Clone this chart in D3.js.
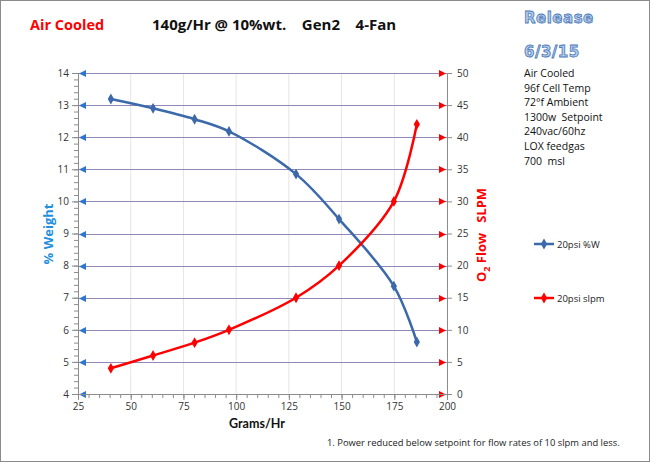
<!DOCTYPE html>
<html><head><meta charset="utf-8">
<script src="https://cdn.jsdelivr.net/npm/d3@7"></script>
<style>body{margin:0;background:#fff}svg{display:block}</style>
</head><body>
<svg id="c" width="650" height="462"></svg>
<script>
const grams = [40.6, 60.6, 80.3, 96.6, 128.4, 148.8, 174.8, 185.7];
const weightPct = [13.19, 12.9, 12.56, 12.18, 10.85, 9.45, 7.36, 5.62];
const flowSlpm = [4, 6, 8, 10, 15, 20, 30, 42];
const xTicks = [25, 50, 75, 100, 125, 150, 175, 200];
const leftTicks = [4, 5, 6, 7, 8, 9, 10, 11, 12, 13, 14];
const rightTicks = [0, 5, 10, 15, 20, 25, 30, 35, 40, 45, 50];
const notes = ["Air Cooled", "96f Cell Temp", "72°f Ambient", "1300w  Setpoint", "240vac/60hz", "LOX feedgas", "700  msl"];
const seriesNames = ["20psi %W", "20psi slpm"];

const svg = d3.select("#c");
const font = "'Open Sans', 'Noto Sans', sans-serif";
const blue = "#3B69AA", red = "#FF0000", grid = "#9486B8";
const L = 78, R = 447, T = 73, B = 394;
const x = d3.scaleLinear().domain([25, 200]).range([L, R]);
const yl = d3.scaleLinear().domain([4, 14]).range([B, T]);
const yr = d3.scaleLinear().domain([0, 50]).range([B, T]);

svg.append("rect").attr("x", 0.5).attr("y", 0.5).attr("width", 649).attr("height", 461)
  .attr("fill", "#fff").attr("stroke", "#8a8a8a");

// vertical grid
svg.append("g").selectAll("line").data(xTicks.slice(1, -1)).join("line")
  .attr("x1", d => x(d)).attr("x2", d => x(d)).attr("y1", T).attr("y2", B)
  .attr("stroke", "#e6e6e6").attr("stroke-width", 1);
// horizontal grid
svg.append("g").selectAll("line").data(leftTicks).join("line")
  .attr("x1", L).attr("x2", R).attr("y1", d => Math.round(yl(d)) + 0.5).attr("y2", d => Math.round(yl(d)) + 0.5)
  .attr("stroke", grid).attr("stroke-width", 1);
// arrows
svg.append("g").selectAll("path").data(leftTicks).join("path")
  .attr("d", d => { const yy = Math.round(yl(d)) + 0.5; return `M${L+1},${yy} L${L+8},${yy-3.5} L${L+8},${yy+3.5}Z`; })
  .attr("fill", "#2E75D0");
svg.append("g").selectAll("path").data(rightTicks).join("path")
  .attr("d", d => { const yy = Math.round(yr(d)) + 0.5; return `M${R-1},${yy} L${R-8},${yy-3.5} L${R-8},${yy+3.5}Z`; })
  .attr("fill", red);

// axes
const axisColor = "#8c8c8c";
function styleAxis(g) {
  g.select(".domain").attr("stroke", axisColor);
  g.selectAll(".tick line").attr("stroke", axisColor);
  g.selectAll("text").attr("fill", "#333").style("font-family", font).style("font-size", "10px");
}
// minor ticks
const gl = svg.append("g").attr("transform", `translate(${L},0)`)
  .call(d3.axisLeft(yl).tickValues(d3.range(4, 14.01, 0.2)).tickSize(4).tickFormat(""));
gl.select(".domain").remove(); gl.selectAll("line").attr("stroke", axisColor);
const gb = svg.append("g").attr("transform", `translate(0,${B})`)
  .call(d3.axisBottom(x).tickValues(d3.range(25, 200.1, 5)).tickSize(4).tickFormat(""));
gb.select(".domain").remove(); gb.selectAll("line").attr("stroke", axisColor);

svg.append("g").attr("transform", `translate(${L},0)`)
  .call(d3.axisLeft(yl).tickValues(leftTicks).tickSize(6).tickSizeOuter(0).tickPadding(3)).call(styleAxis);
svg.append("g").attr("transform", `translate(${R},0)`)
  .call(d3.axisRight(yr).tickValues(rightTicks).tickSize(5).tickSizeOuter(0).tickPadding(5)).call(styleAxis);
svg.append("g").attr("transform", `translate(0,${B})`)
  .call(d3.axisBottom(x).tickValues(xTicks).tickSize(6).tickSizeOuter(0).tickPadding(3)).call(styleAxis);

// lines
const curve = d3.curveCatmullRom.alpha(0.5);
const blueData = grams.map((g, i) => [g, weightPct[i]]);
const redData = grams.map((g, i) => [g, flowSlpm[i]]);
svg.append("path").datum(blueData)
  .attr("d", d3.line().x(d => x(d[0])).y(d => yl(d[1])).curve(curve))
  .attr("fill", "none").attr("stroke", blue).attr("stroke-width", 2.5);
svg.append("path").datum(redData)
  .attr("d", d3.line().x(d => x(d[0])).y(d => yr(d[1])).curve(curve))
  .attr("fill", "none").attr("stroke", red).attr("stroke-width", 2.5);
const diamond = d3.symbol().type(d3.symbolDiamond).size(34);
svg.append("g").selectAll("path").data(blueData).join("path")
  .attr("transform", d => `translate(${x(d[0])},${yl(d[1])})`).attr("d", diamond).attr("fill", blue);
svg.append("g").selectAll("path").data(redData).join("path")
  .attr("transform", d => `translate(${x(d[0])},${yr(d[1])})`).attr("d", diamond).attr("fill", red);

// titles
svg.append("text").attr("x", 30).attr("y", 30).text("Air Cooled")
  .attr("fill", red).style("font-family", font).style("font-weight", "bold").style("font-size", "14.5px");
svg.append("text").attr("x", 152).attr("y", 30).attr("xml:space", "preserve").text("140g/Hr @ 10%wt.    Gen2    4-Fan")
  .attr("fill", "#111").style("font-family", font).style("font-weight", "bold").style("font-size", "15px").style("white-space", "pre");
[["Release", 23], ["6/3/15", 57]].forEach(([t, yy]) => {
  svg.append("text").attr("x", 524).attr("y", yy).text(t)
    .attr("fill", "#B4CBEA").attr("stroke", "#4A78B8").attr("stroke-width", 0.8)
    .style("font-family", "'DejaVu Sans', sans-serif").style("font-weight", "bold").style("font-size", "15px")
    .style("letter-spacing", "0.5px");
});
svg.append("g").selectAll("text").data(notes).join("text")
  .attr("x", 524).attr("y", (d, i) => 77 + i * 14.6).text(d => d)
  .attr("fill", "#111").style("font-family", font).style("font-size", "10.5px").style("white-space", "pre");

// axis titles
svg.append("text").attr("transform", "translate(53,234) rotate(-90)").attr("text-anchor", "middle")
  .text("% Weight").attr("fill", "#1F8FE0").style("font-family", font).style("font-weight", "bold").style("font-size", "13px");
const rt = svg.append("text").attr("transform", "translate(486,235) rotate(-90)").attr("text-anchor", "middle")
  .attr("fill", red).style("font-family", font).style("font-weight", "bold").style("font-size", "13px").style("white-space", "pre");
rt.append("tspan").text("O");
rt.append("tspan").text("2").attr("dy", 4).style("font-size", "9px");
rt.append("tspan").text(" Flow   SLPM").attr("dy", -4);
svg.append("text").attr("x", 257).attr("y", 428).attr("text-anchor", "middle").text("Grams/Hr")
  .attr("fill", "#111").style("font-family", "Lato, 'Open Sans', sans-serif").style("font-weight", "bold").style("font-size", "12.5px");
svg.append("text").attr("x", 327).attr("y", 446).text("1. Power reduced below setpoint for flow rates of 10 slpm and less.")
  .attr("fill", "#222").style("font-family", font).style("font-size", "9.4px");

// legend
const lg = [[blue, 244], [red, 298]];
lg.forEach(([c, yy], i) => {
  svg.append("line").attr("x1", 534).attr("x2", 554).attr("y1", yy).attr("y2", yy).attr("stroke", c).attr("stroke-width", 2.5);
  svg.append("path").attr("transform", `translate(544,${yy})`).attr("d", diamond).attr("fill", c);
  svg.append("text").attr("x", 557).attr("y", yy + 3.5).text(seriesNames[i])
    .attr("fill", "#222").style("font-family", font).style("font-size", "9.5px");
});
</script>
</body></html>
